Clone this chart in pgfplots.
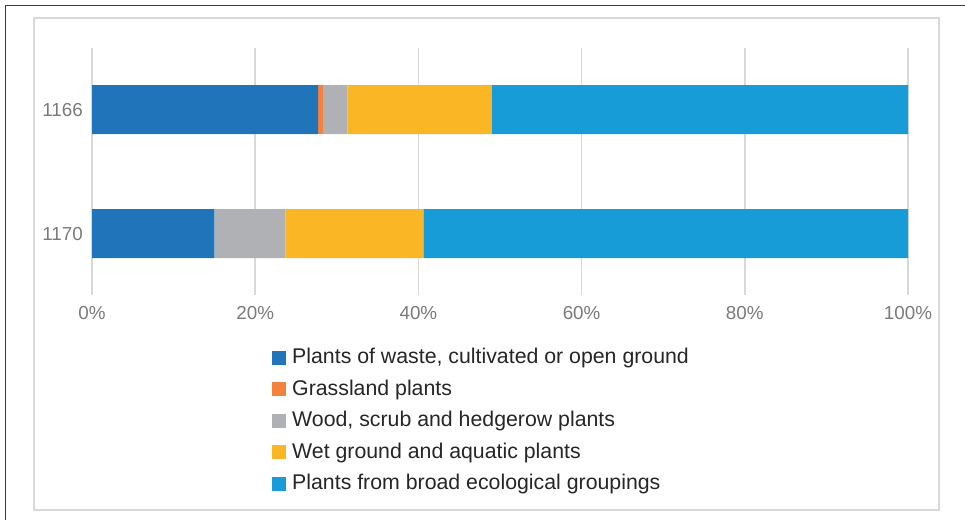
\documentclass[border=0pt]{standalone}
\usepackage{pgfplots}
\pgfplotsset{compat=1.18}
\usepackage{fontspec}
\setmainfont{Liberation Sans}

\definecolor{cWaste}{HTML}{1F74BA}
\definecolor{cGrass}{HTML}{F5813F}
\definecolor{cWood}{HTML}{B0B1B4}
\definecolor{cWet}{HTML}{FBB626}
\definecolor{cBroad}{HTML}{189CD7}
\definecolor{gridgray}{HTML}{D9D9D9}
\definecolor{tickgray}{HTML}{7A7A7A}
\definecolor{legendtext}{HTML}{262626}
\definecolor{framedark}{HTML}{3C3C3C}

\begin{document}
\begin{tikzpicture}[x=1pt,y=1pt]
\path[use as bounding box] (0,0) rectangle (965,520);
% outer frame (top and left edges)
\draw[framedark, line width=1.3pt] (965,514.4) -- (5.6,514.4) -- (5.6,0);
% chart area border
\draw[gridgray, line width=2pt] (34.3,10) rectangle (939.2,502);

\begin{axis}[
  at={(92pt,225pt)}, anchor=south west,
  scale only axis, width=816pt, height=247pt,
  xbar stacked, bar width=49pt,
  xmin=0, xmax=100, ymin=-0.496, ymax=1.496, y dir=reverse,
  ytick={0,1}, yticklabels={1166,1170},
  xtick={0,20,...,100},
  xticklabel={\pgfmathprintnumber{\tick}\%},
  /pgf/number format/assume math mode=true,
  xmajorgrids, major grid style={draw=gridgray, line width=1.5pt},
  axis line style={draw=none},
  major tick length=0pt,
  tick label style={font=\fontsize{18.8}{20}\selectfont, text=tickgray, inner sep=0pt},
  xticklabel style={anchor=base, yshift=-24.6pt},
  yticklabel style={anchor=base east, xshift=-9pt, yshift=-6.7pt},
  legend cell align=left,
  legend style={at={(0.2206,-0.2166)}, anchor=north west,
    draw=none, fill=none, inner sep=0pt, row sep=11.5pt, column sep=6pt,
    nodes={inner sep=0pt, text height=15pt, text depth=5pt,
      font=\fontsize{21.3}{23}\selectfont, text=legendtext}},
  legend image code/.code={\fill[#1] (0pt,-6pt) rectangle (14pt,8pt);},
]
\addplot[fill=cWaste, draw=none] coordinates {(27.7,0) (15.0,1)};
\addplot[fill=cGrass, draw=none] coordinates {(0.6,0) (0,1)};
\addplot[fill=cWood, draw=none] coordinates {(3.0,0) (8.7,1)};
\addplot[fill=cWet, draw=none] coordinates {(17.7,0) (16.9,1)};
\addplot[fill=cBroad, draw=none] coordinates {(51.0,0) (59.4,1)};
\legend{{Plants of waste, cultivated or open ground},
  {Grassland plants},
  {Wood, scrub and hedgerow plants},
  {Wet ground and aquatic plants},
  {Plants from broad ecological groupings}}
\end{axis}
\end{tikzpicture}
\end{document}
